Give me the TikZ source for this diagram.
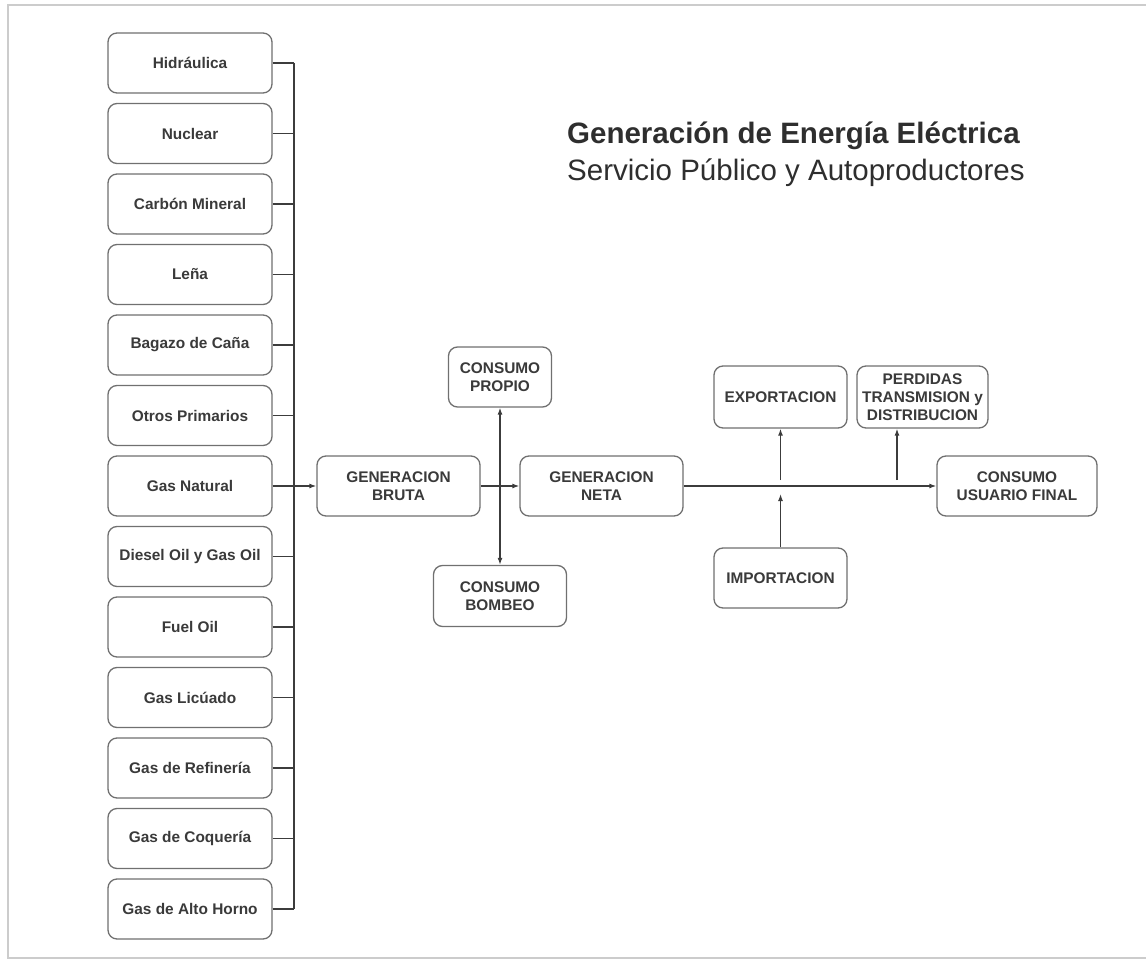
\documentclass[tikz,border=0pt]{standalone}
\usepackage{fontspec}
\setmainfont{Liberation Sans}
\usetikzlibrary{arrows.meta}
\definecolor{boxline}{HTML}{707070}
\definecolor{boxtext}{HTML}{3A3A3A}
\definecolor{wire}{HTML}{3C3C3C}
\definecolor{framegray}{HTML}{CCCCCC}
\definecolor{titletext}{HTML}{2E2E2E}

\begin{document}
\begin{tikzpicture}[x=1pt,y=-1pt,
  box/.style={draw=boxline, line width=1.3pt, rounded corners=9pt, fill=white,
    inner sep=0pt, text=boxtext, align=center,
    font=\fontsize{15.4}{18.3}\selectfont\bfseries},
  src/.style={box, minimum width=164pt, minimum height=60pt},
  wire/.style={draw=wire, line width=1.3pt},
  arr/.style={wire, -{Latex[length=7pt,width=5pt]}},
  titlefont/.style={anchor=base west, inner sep=0pt, text=titletext}]
\useasboundingbox (0,0) rectangle (1146,963);

% page frame
\draw[framegray, line width=2pt] (1146,5) -- (8,5) -- (8,958) -- (1146,958);

% title
\node[titlefont, font=\fontsize{29.5}{32}\selectfont\bfseries] (t1) at (567,144)
  {Generación de Energía Eléctrica};
\node[titlefont, font=\fontsize{29.5}{32}\selectfont] (t2) at (567,180)
  {Servicio Público y Autoproductores};

% primary sources
\foreach \t [count=\i from 0] in {Hidráulica, Nuclear, Carbón Mineral, Leña,
    Bagazo de Caña, Otros Primarios, Gas Natural, Diesel Oil y Gas Oil,
    Fuel Oil, Gas Licúado, Gas de Refinería, Gas de Coquería, Gas de Alto Horno}
  \node[src] (s\i) at (190, 63+70.5*\i) {\t};

% collector bus
\coordinate (busx) at (294,0);
\foreach \i in {0,...,12}
  \draw[wire] (s\i.east) -- (s\i.east -| busx);
\draw[wire] (s0.east -| busx) -- (s12.east -| busx);

% central chain
\node[box, minimum width=163pt, minimum height=60pt] (bruta) at (398.5,486) {GENERACION\\BRUTA};
\node[box, minimum width=163pt, minimum height=60pt] (neta) at (601.5,486) {GENERACION\\NETA};
\node[box, minimum width=103pt, minimum height=60pt] (propio) at (500,377) {CONSUMO\\PROPIO};
\node[box, minimum width=133pt, minimum height=61pt] (bombeo) at (500,596) {CONSUMO\\BOMBEO};
\node[box, minimum width=133pt, minimum height=62pt] (expo) at (780.5,397) {EXPORTACION};
\node[box, minimum width=131pt, minimum height=62pt] (perd) at (922.5,397) {PERDIDAS\\TRANSMISION y\\DISTRIBUCION};
\node[box, minimum width=160pt, minimum height=60pt] (usuario) at (1017,486) {CONSUMO\\USUARIO FINAL};
\node[box, minimum width=133pt, minimum height=60pt] (impo) at (780.5,578) {IMPORTACION};

% flows
\draw[arr] (s6.east) -- (bruta.west);
\draw[arr] (bruta.east) -- (neta.west);
\coordinate (cross) at (500,486);
\draw[arr] (cross) -- (propio.south);
\draw[arr] (cross) -- (bombeo.north);
\draw[arr] (neta.east) -- (usuario.west);
\coordinate (ex) at (780.5,480);
\draw[arr] (ex) -- (expo.south);
\coordinate (im) at (780.5,494);
\draw[arr] (impo.north) -- (im);
\coordinate (pe) at (897,480);
\draw[arr] (pe) -- (pe |- perd.south);
\end{tikzpicture}
\end{document}
